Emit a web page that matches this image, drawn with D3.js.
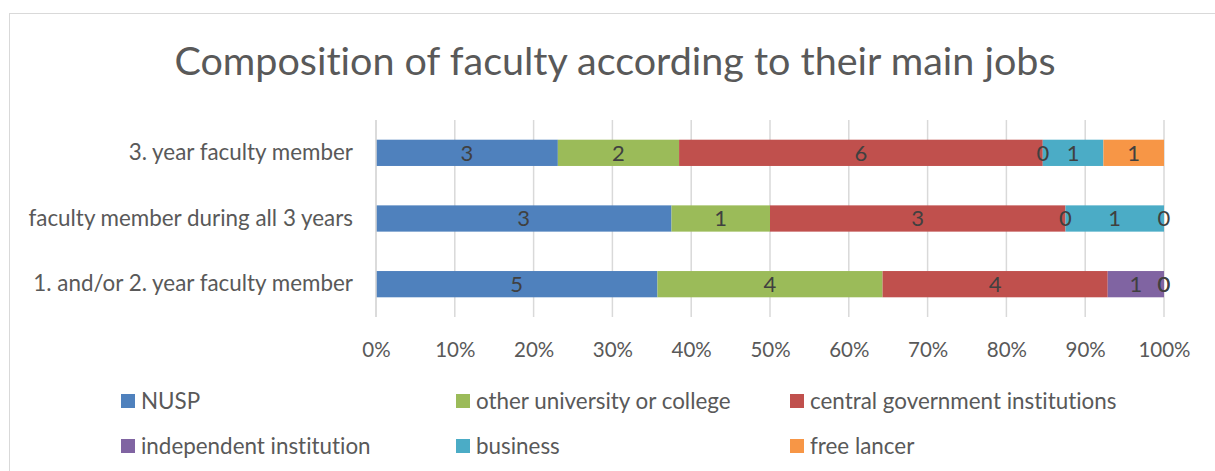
<!DOCTYPE html>
<html>
<head>
<meta charset="utf-8">
<script src="https://cdn.jsdelivr.net/npm/d3@7"></script>
<style>
  html, body { margin: 0; padding: 0; background: #fff; }
  svg { display: block; }
  text { font-family: Lato, "Open Sans", sans-serif; font-variant-ligatures: none; }
</style>
</head>
<body>
<svg id="chart" width="1215" height="471"></svg>
<script>
// Faculty groups, top to bottom
const categories = [
  "3. year faculty member",
  "faculty member during all 3 years",
  "1. and/or 2. year faculty member"
];
const seriesNames = [
  "NUSP",
  "other university or college",
  "central government institutions",
  "independent institution",
  "business",
  "free lancer"
];
// Head counts per group (same order as categories)
const nusp        = [3, 3, 5];
const otherUni    = [2, 1, 4];
const centralGov  = [6, 3, 4];
const independent = [0, 0, 1];
const business    = [1, 1, 0];
const freeLancer  = [1, 0, 0];
const tickLabels  = ["0%","10%","20%","30%","40%","50%","60%","70%","80%","90%","100%"];

const colors = ["#4F81BD", "#9BBB59", "#C0504D", "#8064A2", "#4BACC6", "#F79646"];
const seriesValues = [nusp, otherUni, centralGov, independent, business, freeLancer];

// Build rows of shares for the 100% stack
const rows = categories.map((c, i) => {
  const row = { category: c };
  const total = d3.sum(seriesValues, s => s[i]);
  seriesNames.forEach((n, k) => { row[n] = seriesValues[k][i] / total; row[n + "_n"] = seriesValues[k][i]; });
  return row;
});
const stacked = d3.stack().keys(seriesNames)(rows);

const svg = d3.select("#chart");
const textColor = "#595959";
const labelSize = 22.4;

// Chart frame
svg.append("rect")
  .attr("x", 9.5).attr("y", 13.5)
  .attr("width", 1220).attr("height", 480)
  .attr("fill", "none").attr("stroke", "#D9D9D9").attr("stroke-width", 1);

// Title
svg.append("text")
  .attr("x", 615).attr("y", 75)
  .attr("text-anchor", "middle")
  .attr("font-size", 39.5)
  .attr("fill", textColor)
  .text("Composition of faculty according to their main jobs");

const x = d3.scaleLinear().domain([0, 1]).range([376, 1164]);
const y = d3.scaleBand().domain(categories).range([120, 317]).paddingInner(0.6).paddingOuter(0.3);

// Vertical gridlines
const g = svg.append("g");
g.selectAll("line.grid")
  .data(d3.range(0, 11).map(i => i / 10))
  .join("line")
  .attr("class", "grid")
  .attr("x1", d => x(d)).attr("x2", d => x(d))
  .attr("y1", 120).attr("y2", 317)
  .attr("stroke", "#D9D9D9").attr("stroke-width", 1.5);

// Stacked bars
const layer = g.selectAll("g.layer")
  .data(stacked)
  .join("g")
  .attr("class", "layer")
  .attr("fill", (d, i) => colors[i]);

layer.selectAll("rect")
  .data(d => d)
  .join("rect")
  .attr("x", d => x(d[0]))
  .attr("y", d => y(d.data.category))
  .attr("width", d => x(d[1]) - x(d[0]))
  .attr("height", y.bandwidth());

// Value labels centred in each segment, drawn above all bars
const labels = svg.append("g");
stacked.forEach(s => {
  labels.selectAll(null)
    .data(s)
    .join("text")
    .attr("x", d => (x(d[0]) + x(d[1])) / 2)
    .attr("y", d => y(d.data.category) + y.bandwidth() / 2)
    .attr("dy", "0.36em")
    .attr("text-anchor", "middle")
    .attr("font-size", 22)
    .attr("fill", "#404040")
    .text(d => d.data[s.key + "_n"]);
});

// X axis labels
const xAxis = d3.axisBottom(x)
  .tickValues(d3.range(0, 11).map(i => i / 10))
  .tickFormat((d, i) => tickLabels[i])
  .tickSize(0).tickPadding(0);
const ax = svg.append("g").attr("transform", "translate(0,342)").call(xAxis);
ax.select(".domain").remove();
ax.selectAll("text").attr("font-size", 20.5).attr("fill", textColor)
  .attr("font-family", "Lato, 'Open Sans', sans-serif");

// Y axis labels
const yAxis = d3.axisLeft(y).tickSize(0).tickPadding(0);
const ay = svg.append("g").attr("transform", "translate(353,0)").call(yAxis);
ay.select(".domain").remove();
ay.selectAll("text").attr("font-size", labelSize).attr("fill", textColor)
  .attr("font-family", "Lato, 'Open Sans', sans-serif");

// Baseline of the category axis at 0%
svg.append("line")
  .attr("x1", x(0)).attr("x2", x(0)).attr("y1", 120).attr("y2", 317)
  .attr("stroke", "#D9D9D9").attr("stroke-width", 1.5);

// Legend
const legendX = [121, 456, 790];
const legendY = [401, 446];
const legend = svg.append("g");
seriesNames.forEach((n, i) => {
  const lx = legendX[i % 3], ly = legendY[Math.floor(i / 3)];
  legend.append("rect").attr("x", lx).attr("y", ly - 7).attr("width", 14).attr("height", 14).attr("fill", colors[i]);
  legend.append("text").attr("x", lx + 20).attr("y", ly).attr("dy", "0.35em")
    .attr("font-size", labelSize).attr("fill", textColor).text(n);
});
</script>
</body>
</html>
